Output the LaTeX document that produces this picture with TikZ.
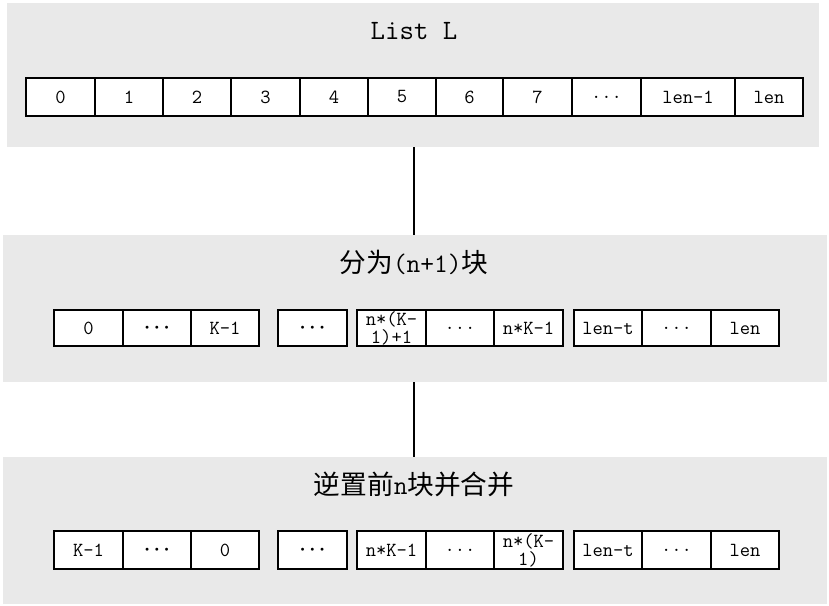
\documentclass[tikz,border=0pt]{standalone}
\usepackage{fontspec}
\newfontfamily\cjk{Noto Sans CJK SC}
\definecolor{panelgray}{RGB}{233,233,233}
\newcommand{\bigdots}{{\boldmath$\cdots$}}
\tikzset{
    panel/.style={fill=panelgray, inner sep=0pt},
    cell/.style={draw, line width=0.8pt, fill=white, inner sep=0pt, align=center,
        font=\ttfamily\fontsize{15}{13.5}\selectfont},
    title/.style={inner sep=0pt, font=\fontsize{20}{20}\selectfont},
    link/.style={line width=0.9pt}
}

\begin{document}
\begin{tikzpicture}[x=0.75pt, y=-0.75pt]
        \useasboundingbox (0,0) rectangle (829,606);
        % panels
        \node[panel, minimum width={812*0.75pt}, minimum height={144*0.75pt}] (list) at (413,75) {};
        \node[panel, minimum width={824*0.75pt}, minimum height={147*0.75pt}] (split) at (415,308.5) {};
        \node[panel, minimum width={824*0.75pt}, minimum height={147*0.75pt}] (merge) at (415,530.5) {};
        % titles
        \node[title, font=\ttfamily\fontsize{21}{21}\selectfont] (listtitle) at (414,31) {List L};
        \node[title] (splittitle) at (414,262) {{\cjk 分为}{\ttfamily(n+1)}{\cjk 块}};
        \node[title] (mergetitle) at (414,484) {{\cjk 逆置前}{\ttfamily n}{\cjk 块并合并}};
        % list cells
        \foreach \n/\xa/\xb/\t in {0/26/95/0, 1/95/163/1, 2/163/231/2, 3/231/300/3,
            4/300/368/4, 5/368/436/5, 6/436/503/6, 7/503/572/7, 8/572/641/{...},
            9/641/735/{len-1}, 10/735/803/len}
        {
            \node[cell, minimum width={(\xb-\xa)*0.75pt}, minimum height={38*0.75pt}]
                (l\n) at ({(\xa+\xb)/2},97) {\t};
        }
        % split cells
        \foreach \n/\xa/\xb/\t in {0/54/123/0, 1/123/191/\bigdots, 2/191/259/K-1,
            3/278/347/\bigdots, 4/357/426/{n*(K-\\1)+1}, 5/426/494/{...}, 6/494/563/n*K-1,
            7/574/642/len-t, 8/642/711/{...}, 9/711/779/len}
        {
            \node[cell, minimum width={(\xb-\xa)*0.75pt}, minimum height={36*0.75pt}]
                (s\n) at ({(\xa+\xb)/2},328) {\t};
        }
        % merged cells
        \foreach \n/\xa/\xb/\t in {0/54/123/K-1, 1/123/191/\bigdots, 2/191/259/0,
            3/278/347/\bigdots, 4/357/426/n*K-1, 5/426/494/{...}, 6/494/563/{n*(K-\\1)},
            7/574/642/len-t, 8/642/711/{...}, 9/711/779/len}
        {
            \node[cell, minimum width={(\xb-\xa)*0.75pt}, minimum height={38*0.75pt}]
                (m\n) at ({(\xa+\xb)/2},550) {\t};
        }
        % links
        \draw[link] (list.south -| listtitle.center) -- (split.north -| listtitle.center);
        \draw[link] (split.south -| listtitle.center) -- (merge.north -| listtitle.center);
    \end{tikzpicture}
\end{document}
